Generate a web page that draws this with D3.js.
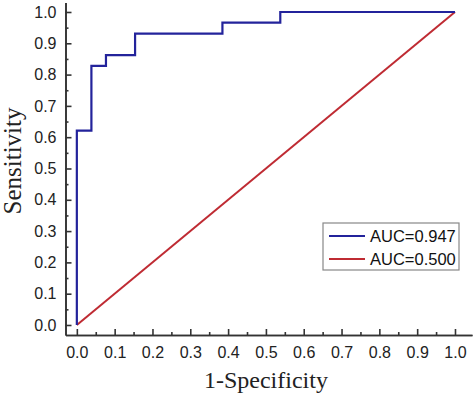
<!DOCTYPE html>
<meta charset="utf-8">
<style>
body { margin: 0; background: #fff; }
.tick text { font-family: "Liberation Sans", Arial, sans-serif; font-size: 16px; fill: #222; }
.axis path, .axis line { stroke: #333; stroke-width: 1.6; }
</style>
<body>
<script src="https://cdn.jsdelivr.net/npm/d3@7"></script>
<script>

var width = 474,
    height = 397;

// ROC curve (1-specificity, sensitivity)
var rocX = [0, 0, 0.0385, 0.077, 0.154, 0.385, 0.538, 1.0];
var rocY = [0, 0.621, 0.828, 0.862, 0.931, 0.966, 1.0, 1.0];
// reference diagonal
var refX = [0, 1];
var refY = [0, 1];

var majorTicks = [0, 0.1, 0.2, 0.3, 0.4, 0.5, 0.6, 0.7, 0.8, 0.9, 1.0];
var minorTicks = [0.05, 0.15, 0.25, 0.35, 0.45, 0.55, 0.65, 0.75, 0.85, 0.95];
var legendLabels = ["AUC=0.947", "AUC=0.500"];
var colors = ["#23239b", "#bf2b33"];

var svg = d3.select("body").append("svg")
    .attr("width", width)
    .attr("height", height);

var x = d3.scaleLinear().domain([-0.03, 1.045]).range([65.5, 472]);
var y = d3.scaleLinear().domain([-0.032, 1.03]).range([335, 2.6]);

// minor ticks first, then the main axes on top
svg.append("g")
    .attr("class", "axis")
    .attr("transform", "translate(0," + y.range()[0] + ")")
    .call(d3.axisBottom(x).tickValues(minorTicks).tickSizeInner(-3).tickSizeOuter(0).tickFormat(""));
svg.append("g")
    .attr("class", "axis")
    .attr("transform", "translate(" + x.range()[0] + ",0)")
    .call(d3.axisLeft(y).tickValues(minorTicks).tickSizeInner(-3).tickSizeOuter(0).tickFormat(""));

svg.append("g")
    .attr("class", "axis")
    .attr("transform", "translate(0," + y.range()[0] + ")")
    .call(d3.axisBottom(x).tickValues(majorTicks).tickSizeInner(-6).tickSizeOuter(0)
      .tickPadding(12).tickFormat(d3.format(".1f")));

svg.append("g")
    .attr("class", "axis")
    .attr("transform", "translate(" + x.range()[0] + ",0)")
    .call(d3.axisLeft(y).tickValues(majorTicks).tickSizeInner(-6).tickSizeOuter(0)
      .tickPadding(9).tickFormat(d3.format(".1f")));

var line = d3.line()
    .x(function(d) { return x(d[0]); })
    .y(function(d) { return y(d[1]); });

svg.append("path")
    .datum(d3.zip(refX, refY))
    .attr("fill", "none")
    .attr("stroke", colors[1])
    .attr("stroke-width", 2)
    .attr("d", line);

svg.append("path")
    .datum(d3.zip(rocX, rocY))
    .attr("fill", "none")
    .attr("stroke", colors[0])
    .attr("stroke-width", 2.2)
    .attr("d", line.curve(d3.curveStepAfter));

// axis titles
svg.append("text")
    .attr("x", (x(0) + x(1)) / 2)
    .attr("y", 388)
    .attr("text-anchor", "middle")
    .style("font-family", "'Liberation Serif', 'Times New Roman', serif")
    .style("font-size", "24px")
    .style("fill", "#222")
    .text("1-Specificity");

svg.append("text")
    .attr("transform", "translate(21,161) rotate(-90)")
    .attr("text-anchor", "middle")
    .style("font-family", "'Liberation Serif', 'Times New Roman', serif")
    .style("font-size", "25px")
    .style("fill", "#222")
    .text("Sensitivity");

// legend
var lg = svg.append("g").attr("transform", "translate(323,223)");
lg.append("rect")
    .attr("width", 136)
    .attr("height", 47)
    .attr("fill", "#fff")
    .attr("stroke", "#888")
    .attr("stroke-width", 1.2);

var entry = lg.selectAll("g.legendEntry")
    .data(legendLabels)
    .enter()
    .append("g")
    .attr("class", "legendEntry")
    .attr("transform", function(d, i) { return "translate(0," + (13 + i * 23) + ")"; });

entry.append("line")
    .attr("x1", 6)
    .attr("x2", 42)
    .attr("stroke", function(d, i) { return colors[i]; })
    .attr("stroke-width", 2);

entry.append("text")
    .attr("x", 47)
    .attr("dy", "0.36em")
    .style("font-family", "'Liberation Sans', Arial, sans-serif")
    .style("font-size", "16.5px")
    .style("fill", "#111")
    .text(function(d) { return d; });

</script>
